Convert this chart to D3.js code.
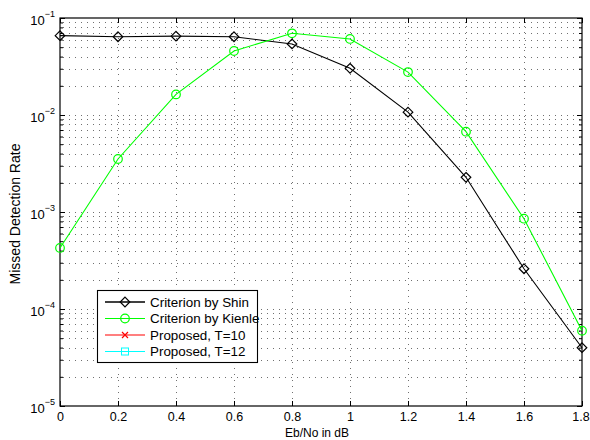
<!DOCTYPE html>
<html>
<head>
<meta charset="utf-8">
<script src="https://cdn.jsdelivr.net/npm/d3@7/dist/d3.min.js"></script>
<style>
  html, body { margin: 0; padding: 0; background: #fff; }
  svg { display: block; font-family: "Liberation Sans", Arial, Helvetica, sans-serif; }
</style>
</head>
<body>
<svg id="chart" width="590" height="440"></svg>
<script>
// Eb/No values (dB)
const ebno = [0, 0.2, 0.4, 0.6, 0.8, 1.0, 1.2, 1.4, 1.6, 1.8];
// Missed detection rate per criterion
const shin   = [0.0658, 0.0641, 0.0650, 0.0641, 0.0540, 0.0303, 0.0107, 0.00228, 0.000260, 0.0000399];
const kienle = [0.000426, 0.00352, 0.0163, 0.0457, 0.0695, 0.0608, 0.0277, 0.00673, 0.000853, 0.0000597];
const proposedT10 = [];
const proposedT12 = [];

const xTicks = [0, 0.2, 0.4, 0.6, 0.8, 1.0, 1.2, 1.4, 1.6, 1.8];
const yDecades = [1e-5, 1e-4, 1e-3, 1e-2, 1e-1];
const yExponents = ["\u22125", "\u22124", "\u22123", "\u22122", "\u22121"];

const seriesNames = ["Criterion by Shin", "Criterion by Kienle", "Proposed, T=10", "Proposed, T=12"];

const svg = d3.select("#chart");
const plotL = 60, plotR = 582, plotT = 18, plotB = 406;

const x = d3.scaleLinear().domain([0, 1.8]).range([plotL, plotR]);
const y = d3.scaleLog().domain([1e-5, 1e-1]).range([plotB, plotT]);

// minor decades 2..9
const yMinor = [];
yDecades.slice(0, -1).forEach(d => { for (let k = 2; k <= 9; k++) yMinor.push(d * k); });

// ---- grid ----
const grid = svg.append("g").attr("stroke", "#707070").attr("stroke-width", 1)
  .attr("stroke-dasharray", "1,5").attr("fill", "none");
grid.selectAll("line.h").data(yDecades.slice(1, -1).concat(yMinor)).join("line")
  .attr("x1", plotL + 3).attr("x2", plotR)
  .attr("y1", d => Math.round(y(d)) + 0.5).attr("y2", d => Math.round(y(d)) + 0.5);
grid.selectAll("line.v").data(xTicks.slice(1, -1)).join("line")
  .attr("y1", plotT + 2).attr("y2", plotB)
  .attr("x1", d => Math.round(x(d)) + 0.5).attr("x2", d => Math.round(x(d)) + 0.5);

// ---- axes ----
const fmt = d3.format("~g");
const styleAxis = g => {
  g.select(".domain").remove();
  g.selectAll(".tick line").attr("stroke", "#000");
  g.selectAll("text").attr("fill", "#000");
};

svg.append("g").attr("transform", `translate(0,${plotB})`)
  .call(d3.axisBottom(x).tickValues(xTicks).tickSize(-5).tickPadding(6).tickFormat(fmt))
  .call(styleAxis)
  .call(g => g.selectAll("text").attr("font-size", 12.5).attr("font-family", null))
  // keep the last label inside the page
  .call(g => g.selectAll(".tick:last-of-type text").attr("x", -1.5));

svg.append("g").attr("transform", `translate(0,${plotT})`)
  .call(d3.axisTop(x).tickValues(xTicks).tickSize(-5).tickFormat(""))
  .call(styleAxis);

svg.append("g").attr("transform", `translate(${plotL},0)`)
  .call(d3.axisLeft(y).tickValues(yDecades).tickSize(-5).tickPadding(5).tickFormat(""))
  .call(styleAxis)
  .call(g => {
    g.selectAll(".tick text").each(function(d, i) {
      const t = d3.select(this).attr("dy", null).attr("y", 6.5).attr("font-family", null);
      t.append("tspan").attr("font-size", 13).text("10");
      t.append("tspan").attr("font-size", 9).attr("dy", -8).text(yExponents[i]);
    });
  });

svg.append("g").attr("transform", `translate(${plotL},0)`)
  .call(d3.axisLeft(y).tickValues(yMinor).tickSize(-3).tickFormat(""))
  .call(styleAxis);

svg.append("g").attr("transform", `translate(${plotR},0)`)
  .call(d3.axisRight(y).tickValues(yDecades).tickSize(-5).tickFormat(""))
  .call(styleAxis);

svg.append("g").attr("transform", `translate(${plotR},0)`)
  .call(d3.axisRight(y).tickValues(yMinor).tickSize(-3).tickFormat(""))
  .call(styleAxis);

// ---- box ----
svg.append("rect").attr("x", plotL).attr("y", plotT)
  .attr("width", plotR - plotL).attr("height", plotB - plotT)
  .attr("fill", "none").attr("stroke", "#000").attr("stroke-width", 1.2);

// ---- axis titles ----
svg.append("text").attr("x", 317).attr("y", 437).attr("text-anchor", "middle")
  .attr("font-size", 12).text("Eb/No in dB");
svg.append("text").attr("transform", "translate(20,214) rotate(-90)")
  .attr("text-anchor", "middle").attr("font-size", 14)
  .text("Missed Detection Rate");

// ---- markers ----
function drawMarker(g, kind, cx, cy, color) {
  if (kind === "diamond") {
    const s = 4.8;
    g.append("path").attr("d", `M${cx},${cy - s}L${cx + s},${cy}L${cx},${cy + s}L${cx - s},${cy}Z`)
      .attr("fill", "none").attr("stroke", color).attr("stroke-width", 1.2);
  } else if (kind === "circle") {
    g.append("circle").attr("cx", cx).attr("cy", cy).attr("r", 4.3)
      .attr("fill", "none").attr("stroke", color).attr("stroke-width", 1.2);
  } else if (kind === "x") {
    const s = 3;
    g.append("path").attr("d", `M${cx - s},${cy - s}L${cx + s},${cy + s}M${cx - s},${cy + s}L${cx + s},${cy - s}`)
      .attr("stroke", color).attr("stroke-width", 1.2);
  } else if (kind === "square") {
    const s = 3.5;
    g.append("rect").attr("x", cx - s).attr("y", cy - s).attr("width", 2 * s).attr("height", 2 * s)
      .attr("fill", "none").attr("stroke", color).attr("stroke-width", 1);
  }
}

const series = [
  { name: seriesNames[0], values: shin, color: "#000000", marker: "diamond" },
  { name: seriesNames[1], values: kienle, color: "#00ff00", marker: "circle" },
  { name: seriesNames[2], values: proposedT10, color: "#ff0000", marker: "x" },
  { name: seriesNames[3], values: proposedT12, color: "#00ffff", marker: "square" }
];

const line = d3.line().x(d => x(d[0])).y(d => y(d[1]));
series.forEach(s => {
  const pts = s.values.map((v, i) => [ebno[i], v]);
  if (!pts.length) return;
  const g = svg.append("g");
  g.append("path").attr("d", line(pts)).attr("fill", "none")
    .attr("stroke", s.color).attr("stroke-width", 1.1);
  pts.forEach(p => drawMarker(g, s.marker, x(p[0]), y(p[1]), s.color));
});

// ---- legend ----
const lg = svg.append("g");
lg.append("rect").attr("x", 97.5).attr("y", 290.5).attr("width", 160).attr("height", 72)
  .attr("fill", "#fff").attr("stroke", "#000").attr("stroke-width", 1.1);
series.forEach((s, i) => {
  const cy = 302 + i * 16.5;
  lg.append("line").attr("x1", 105).attr("x2", 145).attr("y1", cy).attr("y2", cy)
    .attr("stroke", s.color).attr("stroke-width", s.marker === "diamond" ? 1.6 : 1.1);
  drawMarker(lg, s.marker, 125, cy, s.color);
  lg.append("text").attr("x", 150).attr("y", cy + 4.8).attr("font-size", 13.4).text(s.name);
});
</script>
</body>
</html>
